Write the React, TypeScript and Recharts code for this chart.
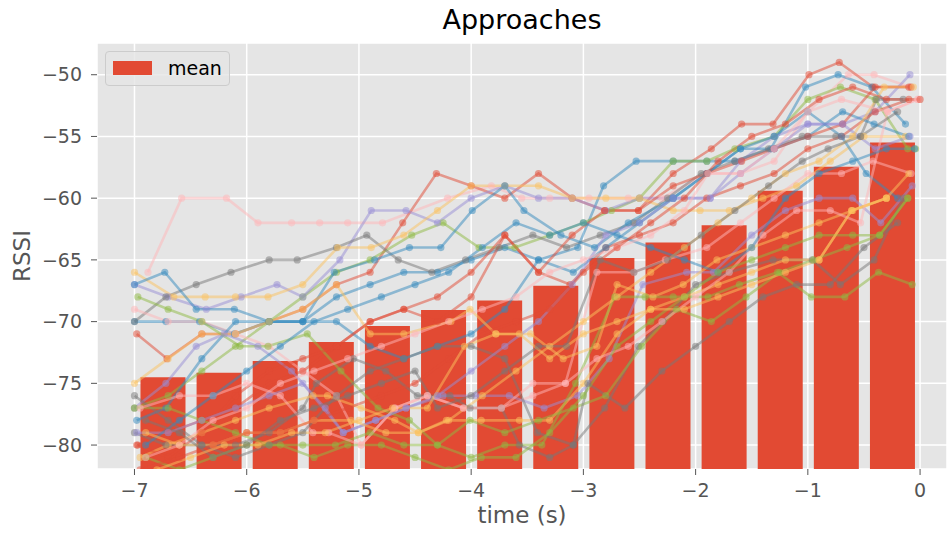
import React from 'react';
import { ComposedChart, Bar, Line, XAxis, YAxis, CartesianGrid, Legend } from 'recharts';

const FONT = '"DejaVu Sans", sans-serif';

const RED = '#E24A33';
const BLUE = '#348ABD';
const PURPLE = '#988ED5';
const GRAY = '#777777';
const YELLOW = '#FBC15E';
const GREEN = '#8EBA42';
const PINK = '#FFB5B8';

// mean per 0.5 s bin
const binTimes = [-6.75, -6.25, -5.75, -5.25, -4.75, -4.25, -3.75, -3.25, -2.75, -2.25, -1.75, -1.25, -0.75, -0.25];
const binMeans = [-74.5, -74.15, -73.2, -71.65, -70.35, -69.05, -68.3, -67.1, -64.85, -63.6, -62.2, -59.4, -57.45, -55.5];

const xTicks = [-7, -6, -5, -4, -3, -2, -1, 0];
const yTicks = [-80, -75, -70, -65, -60, -55, -50];

// individual approaches: [time (s), RSSI]
const trace01 = [[-6.88, -66], [-6.58, -60], [-6.18, -60], [-5.9, -62], [-5.6, -62], [-5.35, -62], [-5.1, -62], [-4.79, -62], [-4.21, -60], [-3.82, -59], [-3.55, -60], [-3.3, -60], [-2.95, -60], [-2.6, -60], [-2.3, -60], [-1.9, -58], [-1.6, -58], [-1.3, -57], [-1.0, -53], [-0.64, -50], [-0.41, -50], [-0.09, -51]];
const trace02 = [[-6.98, -71], [-6.71, -73], [-6.4, -71], [-6.1, -71], [-5.8, -70], [-5.5, -69], [-5.2, -67], [-4.9, -66], [-4.61, -62], [-4.31, -58], [-4.0, -59], [-3.7, -60], [-3.4, -58], [-3.1, -60], [-2.81, -61], [-2.51, -61], [-2.2, -58], [-1.86, -56], [-1.59, -54], [-1.31, -54], [-0.99, -50], [-0.72, -49], [-0.42, -51], [-0.1, -51]];
const trace03 = [[-7, -70], [-6.72, -70], [-6.42, -70], [-6.11, -71], [-5.8, -70], [-5.5, -70], [-5.2, -68], [-4.9, -67], [-4.6, -66], [-4.3, -66], [-4.0, -65], [-3.7, -64], [-3.4, -65], [-3.05, -64], [-2.82, -59], [-2.53, -57], [-2.2, -57], [-1.9, -57], [-1.65, -57], [-1.33, -56], [-1.02, -51], [-0.73, -50], [-0.43, -51], [-0.13, -54]];
const trace04 = [[-7, -77], [-6.7, -76], [-6.4, -74], [-6.1, -72], [-5.8, -70], [-5.5, -68], [-5.2, -66], [-4.9, -65], [-4.53, -63], [-4.25, -62], [-3.93, -64], [-3.61, -64], [-3.3, -63], [-3.0, -62], [-2.75, -61], [-2.5, -60], [-2.2, -57], [-1.9, -57], [-1.65, -56], [-1.3, -55], [-1.0, -52], [-0.71, -51], [-0.4, -52], [-0.11, -56], [-0.04, -56]];
const trace05 = [[-7, -67], [-6.7, -68], [-6.36, -69], [-6.05, -68], [-5.73, -67], [-5.5, -68], [-5.17, -65], [-4.89, -61], [-4.58, -61], [-4.3, -62], [-4.0, -60], [-3.7, -59], [-3.4, -60], [-3.1, -60], [-2.8, -61], [-2.5, -60], [-2.2, -60], [-1.87, -60], [-1.6, -57], [-1.3, -55], [-1.0, -54], [-0.69, -54], [-0.4, -53], [-0.09, -50]];
const trace06 = [[-7, -70], [-6.72, -68], [-6.45, -67], [-6.14, -66], [-5.8, -65], [-5.55, -65], [-5.2, -64], [-4.93, -63], [-4.65, -65], [-4.35, -66], [-4.05, -65], [-3.75, -64], [-3.45, -63], [-3.15, -64], [-2.85, -63], [-2.55, -62], [-2.25, -60], [-1.95, -58], [-1.65, -57], [-1.35, -56], [-1.05, -55], [-0.75, -55], [-0.53, -55], [-0.39, -52], [-0.15, -52]];
const trace07 = [[-7, -66], [-6.65, -68], [-6.37, -68], [-6.1, -68], [-5.81, -68], [-5.5, -67], [-5.19, -64], [-4.89, -64], [-4.6, -63], [-4.3, -61], [-4.0, -59], [-3.7, -59], [-3.4, -59], [-3.1, -60], [-2.8, -60], [-2.5, -60], [-2.2, -61], [-1.96, -61], [-1.7, -61], [-1.4, -60], [-1.1, -59], [-0.8, -57], [-0.5, -55], [-0.13, -55]];
const trace08 = [[-7, -69], [-6.7, -70], [-6.4, -70], [-6.1, -71], [-5.8, -72], [-5.5, -74], [-5.2, -76], [-4.98, -80], [-4.68, -77], [-4.39, -76], [-4.07, -77], [-3.73, -77], [-3.45, -76], [-3.16, -75], [-2.88, -66], [-2.55, -66], [-2.27, -65], [-1.9, -64], [-1.6, -62], [-1.3, -60], [-1.0, -58], [-0.7, -58], [-0.42, -57], [-0.08, -58]];
const trace09 = [[-6.97, -80], [-6.7, -79], [-6.4, -78], [-6.1, -77], [-5.8, -75], [-5.5, -74], [-5.2, -72], [-4.9, -70], [-4.6, -69], [-4.3, -68], [-4.0, -66], [-3.7, -63], [-3.4, -66], [-3.12, -67], [-2.8, -64], [-2.5, -63], [-2.2, -62], [-1.9, -60], [-1.6, -59], [-1.3, -58], [-1.0, -56], [-0.7, -55], [-0.4, -53], [-0.1, -52]];
const trace10 = [[-7, -67], [-6.73, -66], [-6.45, -69], [-6.11, -69], [-5.8, -70], [-5.5, -70], [-5.22, -66], [-4.86, -65], [-4.55, -64], [-4.27, -64], [-3.99, -61], [-3.7, -59], [-3.53, -61], [-3.2, -63], [-2.9, -64], [-2.6, -62], [-2.2, -60], [-1.9, -58], [-1.6, -56], [-1.3, -56], [-1.0, -55], [-0.69, -53], [-0.41, -54], [-0.1, -55]];
const trace11 = [[-6.98, -78], [-6.72, -77], [-6.4, -73], [-6.1, -70], [-5.8, -70], [-5.5, -70], [-5.2, -70], [-4.9, -72], [-4.6, -73], [-4.3, -72], [-4.0, -71], [-3.7, -69], [-3.4, -65], [-3.09, -66], [-2.8, -64], [-2.5, -62], [-2.2, -60], [-1.9, -58], [-1.6, -56], [-1.3, -55], [-1.0, -53], [-0.7, -55], [-0.48, -58], [-0.2, -60]];
const trace12 = [[-7, -77], [-6.72, -75], [-6.45, -72], [-6.2, -71], [-5.9, -72], [-5.6, -74], [-5.3, -77], [-5.14, -79], [-4.85, -78], [-4.58, -77], [-4.25, -76], [-3.96, -76], [-3.66, -76], [-3.35, -77], [-3.05, -76], [-2.77, -73], [-2.47, -67], [-2.08, -66], [-1.84, -66], [-1.5, -63], [-1.2, -61], [-0.9, -60], [-0.6, -60], [-0.35, -62], [-0.07, -59]];
const trace13 = [[-7, -76], [-6.7, -78], [-6.4, -80], [-6.1, -80], [-5.8, -79], [-5.5, -77], [-5.38, -75], [-5.05, -73], [-4.76, -74], [-4.48, -76], [-4.19, -76], [-4.01, -77], [-3.73, -77], [-3.57, -80], [-3.3, -81], [-3.09, -80], [-2.81, -77], [-2.51, -72], [-2.29, -70], [-2.0, -67], [-1.7, -66], [-1.31, -65], [-0.96, -65], [-0.71, -67], [-0.41, -65], [-0.15, -60]];
const trace14 = [[-7, -75], [-6.7, -73], [-6.4, -71], [-6.1, -71], [-5.8, -70], [-5.5, -69], [-5.2, -67], [-4.9, -71], [-4.6, -71], [-4.18, -70], [-4.01, -69], [-3.78, -71], [-3.47, -71], [-3.18, -73], [-2.88, -72], [-2.7, -67], [-2.38, -68], [-2.11, -67], [-1.81, -65], [-1.5, -64], [-1.2, -63], [-0.9, -62], [-0.6, -61], [-0.3, -60]];
const trace15 = [[-6.95, -81], [-6.7, -80], [-6.4, -79], [-6.1, -78], [-5.8, -77], [-5.41, -76], [-5.28, -76], [-4.98, -77], [-4.68, -78], [-4.47, -79], [-4.22, -78], [-3.91, -78], [-3.57, -78], [-3.3, -78], [-3.0, -75], [-2.7, -71], [-2.4, -69], [-2.1, -68], [-1.8, -67], [-1.5, -66], [-1.2, -65], [-0.9, -65], [-0.61, -61], [-0.3, -60], [-0.1, -58]];
const trace16 = [[-7, -77], [-6.7, -77], [-6.4, -78], [-6.1, -79], [-5.8, -80], [-5.5, -80], [-5.21, -80], [-4.9, -79], [-4.6, -80], [-4.3, -80], [-4.0, -81], [-3.7, -80], [-3.37, -80], [-3.07, -75], [-2.72, -68], [-2.45, -68], [-2.2, -68], [-1.89, -68], [-1.61, -67], [-1.27, -66], [-0.97, -68], [-0.67, -68], [-0.37, -66], [-0.07, -67]];
const trace17 = [[-6.97, -68], [-6.7, -69], [-6.4, -70], [-6.06, -72], [-5.81, -72], [-5.46, -71], [-5.16, -74], [-4.83, -77], [-4.55, -78], [-4.3, -80], [-4.01, -78], [-3.7, -79], [-3.4, -78], [-3.09, -77], [-2.8, -76], [-2.48, -72], [-2.17, -69], [-1.86, -70], [-1.55, -68], [-1.25, -66], [-0.95, -65], [-0.65, -64], [-0.36, -63], [-0.11, -60]];
const trace18 = [[-6.98, -80], [-6.7, -81], [-6.4, -79], [-6.1, -76], [-5.8, -74], [-5.5, -73], [-5.2, -72], [-4.9, -70], [-4.6, -69], [-4.3, -70], [-4.0, -68], [-3.7, -63], [-3.4, -66], [-3.1, -63], [-2.81, -61], [-2.51, -61], [-2.2, -59], [-1.9, -58], [-1.59, -57], [-1.3, -56], [-1.0, -55], [-0.69, -54], [-0.4, -51], [-0.08, -51]];
const trace19 = [[-6.95, -77], [-6.6, -76], [-6.3, -76], [-6.0, -75], [-5.7, -76], [-5.41, -79], [-5.27, -79], [-4.98, -80], [-4.68, -77], [-4.39, -76], [-4.07, -77], [-3.73, -77], [-3.45, -75], [-3.16, -75], [-2.88, -73], [-2.6, -72], [-2.3, -70], [-2.0, -68], [-1.7, -66], [-1.4, -63], [-1.1, -61], [-0.8, -61], [-0.53, -62], [-0.29, -53], [-0.02, -52]];
const trace20 = [[-7, -79], [-6.72, -80], [-6.4, -80], [-6.1, -81], [-5.8, -80], [-5.5, -79], [-5.2, -76], [-4.9, -74], [-4.6, -73], [-4.3, -72], [-4.0, -72], [-3.7, -73], [-3.41, -79], [-3.09, -80], [-2.96, -75], [-2.63, -77], [-2.3, -74], [-2.0, -72], [-1.7, -70], [-1.4, -68], [-1.1, -67], [-0.8, -67], [-0.5, -64], [-0.2, -62]];
const trace21 = [[-6.98, -79], [-6.7, -79], [-6.4, -78], [-6.1, -77], [-5.8, -76], [-5.5, -75], [-5.14, -79], [-4.85, -78], [-4.58, -77], [-4.3, -76], [-4.0, -74], [-3.7, -72], [-3.4, -70], [-3.1, -67], [-2.8, -63], [-2.5, -62], [-2.2, -60], [-1.87, -60], [-1.6, -58], [-1.3, -56], [-1.0, -54], [-0.69, -54], [-0.4, -56], [-0.09, -55]];
const trace22 = [[-6.9, -80], [-6.6, -78], [-6.3, -76], [-6.0, -74], [-5.7, -72], [-5.4, -70], [-5.1, -69], [-4.8, -68], [-4.5, -67], [-4.2, -66], [-3.9, -64], [-3.6, -62], [-3.3, -63], [-3.0, -62], [-2.7, -63], [-2.4, -64], [-2.1, -65], [-1.8, -66], [-1.5, -64], [-1.2, -60], [-0.9, -58], [-0.6, -57], [-0.3, -56], [-0.05, -56]];
const trace23 = [[-6.9, -79], [-6.6, -80], [-6.3, -80], [-6.0, -79], [-5.7, -79], [-5.4, -78], [-5.07, -78], [-4.76, -79], [-4.47, -79], [-4.2, -78], [-3.9, -76], [-3.6, -74], [-3.3, -72], [-3.0, -70], [-2.7, -68], [-2.4, -66], [-2.1, -64], [-1.8, -62], [-1.5, -60], [-1.2, -58], [-0.9, -57], [-0.6, -55], [-0.32, -51], [-0.06, -51]];
const trace24 = [[-6.9, -81], [-6.6, -82], [-6.3, -81], [-6.0, -80], [-5.7, -80], [-5.4, -81], [-5.1, -80], [-4.8, -80], [-4.5, -81], [-4.2, -82], [-3.91, -81], [-3.6, -81], [-3.3, -79], [-3.0, -76], [-2.7, -72], [-2.4, -70], [-2.1, -68], [-1.8, -66], [-1.5, -65], [-1.2, -64], [-0.9, -63], [-0.6, -63], [-0.36, -63], [-0.11, -60]];
const trace25 = [[-6.9, -81], [-6.6, -80], [-6.3, -78], [-6.0, -77], [-5.7, -75], [-5.4, -74], [-5.1, -73], [-4.8, -72], [-4.5, -71], [-4.2, -70], [-3.9, -69], [-3.6, -68], [-3.3, -66], [-3.0, -65], [-2.7, -64], [-2.4, -63], [-2.1, -61], [-1.89, -58], [-1.6, -58], [-1.3, -56], [-1.0, -53], [-0.7, -52], [-0.29, -53], [-0.02, -52]];
const trace26 = [[-6.95, -82], [-6.6, -81], [-6.3, -80], [-6.0, -79], [-5.7, -79], [-5.4, -78], [-5.1, -77], [-4.8, -76], [-4.5, -75], [-4.2, -73], [-3.9, -71], [-3.6, -70], [-3.3, -69], [-3.0, -66], [-2.7, -64], [-2.4, -62], [-2.1, -60], [-1.8, -57], [-1.5, -55], [-1.2, -54], [-0.9, -52], [-0.6, -51], [-0.3, -52], [0.0, -52]];
const trace27 = [[-6.9, -78], [-6.6, -79], [-6.3, -81], [-6.0, -80], [-5.7, -78], [-5.4, -77], [-5.1, -76], [-4.8, -75], [-4.5, -74], [-4.3, -77], [-4.0, -76], [-3.7, -74], [-3.4, -72], [-3.15, -72], [-2.85, -65], [-2.55, -66], [-2.25, -65], [-1.95, -63], [-1.65, -61], [-1.35, -59], [-1.05, -57], [-0.82, -56], [-0.53, -55], [-0.2, -53]];
const trace28 = [[-6.8, -82], [-6.5, -81], [-6.2, -80], [-5.9, -80], [-5.6, -79], [-5.3, -79], [-5.0, -78], [-4.7, -77], [-4.39, -77], [-4.06, -72], [-3.78, -71], [-3.57, -71], [-3.3, -73], [-3.0, -71], [-2.7, -70], [-2.4, -69], [-2.1, -69], [-1.8, -68], [-1.5, -67], [-1.2, -66], [-0.9, -65], [-0.61, -61], [-0.3, -60]];

const traceList = [trace01, trace02, trace03, trace04, trace05, trace06, trace07, trace08, trace09, trace10, trace11, trace12, trace13, trace14, trace15, trace16, trace17, trace18, trace19, trace20, trace21, trace22, trace23, trace24, trace25, trace26, trace27, trace28];
const traceColors = [PINK, RED, BLUE, GREEN, PURPLE, GRAY, YELLOW, PINK, RED, BLUE, BLUE, PURPLE, GRAY, YELLOW, YELLOW, GREEN, GREEN, RED, PINK, GRAY, PURPLE, BLUE, YELLOW, GREEN, PINK, RED, GRAY, YELLOW];

const BAR_FLOOR = -100;
const barData = binTimes.map((t, i) => ({ t, mean: [BAR_FLOOR, binMeans[i]] }));

const X_DOMAIN: [number, number] = [-7.334, 0.24];
const Y_DOMAIN: [number, number] = [-81.94, -47.43];

const fmt = (v: number) => (v < 0 ? '\u2212' + Math.abs(v) : String(v));

const tickStyle = { fill: '#555555', fontSize: 19, fontFamily: FONT };

const LegendBox = () => (
  <div
    style={{
      width: 123,
      height: 33,
      background: 'rgba(229,229,229,0.8)',
      border: '1px solid #CCCCCC',
      borderRadius: 4,
      position: 'relative',
      fontFamily: FONT,
    }}
  >
    <div style={{ position: 'absolute', left: 7, top: 9, width: 39, height: 14, background: RED }} />
    <div style={{ position: 'absolute', left: 62, top: 4, fontSize: 19, lineHeight: '24px', color: '#000' }}>mean</div>
  </div>
);

export default function App() {
  return (
    <div style={{ position: 'absolute', left: 0, top: 0, width: 948, height: 533, background: '#fff', fontFamily: FONT }}>
      <div style={{ position: 'absolute', left: 97, width: 850, top: 6, textAlign: 'center', fontSize: 27, lineHeight: '27px', color: '#000' }}>
        Approaches
      </div>
      <div style={{ position: 'absolute', left: 97, width: 850, top: 504, textAlign: 'center', fontSize: 23, lineHeight: '23px', color: '#555555' }}>
        time (s)
      </div>
      <div
        style={{
          position: 'absolute',
          left: 22,
          top: 256,
          fontSize: 23,
          lineHeight: '23px',
          color: '#555555',
          transform: 'translate(-50%, -50%) rotate(-90deg)',
          whiteSpace: 'nowrap',
        }}
      >
        RSSI
      </div>
      <ComposedChart
        width={948}
        height={533}
        data={barData}
        margin={{ top: 43, right: 1, bottom: 0, left: 0 }}
        style={{ position: 'absolute', left: 0, top: 0 }}
      >
        <CartesianGrid xAxisId="main" fill="#E5E5E5" stroke="#FFFFFF" strokeWidth={1.5} />
        <XAxis
          xAxisId="main"
          type="number"
          dataKey="t"
          domain={X_DOMAIN}
          allowDataOverflow
          ticks={xTicks}
          tickFormatter={fmt}
          axisLine={false}
          tickLine={{ stroke: '#555555', strokeWidth: 1 }}
          tickSize={6}
          tickMargin={9}
          tick={tickStyle}
          height={64}
          interval={0}
        />
        <XAxis xAxisId="bars" type="number" dataKey="t" domain={X_DOMAIN} allowDataOverflow hide height={0} />
        <YAxis
          type="number"
          domain={Y_DOMAIN}
          allowDataOverflow
          ticks={yTicks}
          tickFormatter={fmt}
          axisLine={false}
          tickLine={{ stroke: '#555555', strokeWidth: 1 }}
          tickSize={6}
          tickMargin={9}
          tick={tickStyle}
          width={97}
          interval={0}
        />
        <Bar xAxisId="bars" dataKey="mean" name="mean" fill={RED} barSize={45} isAnimationActive={false} />
        {traceList.map((tr, i) => (
          <Line
            key={'trace' + i}
            xAxisId="main"
            data={tr.map(([t, v]) => ({ t, v }))}
            dataKey="v"
            type="linear"
            stroke={traceColors[i]}
            strokeOpacity={0.5}
            strokeWidth={2.6}
            dot={{ r: 3.6, fill: traceColors[i], fillOpacity: 0.5, stroke: 'none' }}
            activeDot={false}
            legendType="none"
            isAnimationActive={false}
          />
        ))}
        <Legend
          layout="vertical"
          align="center"
          verticalAlign="middle"
          content={() => <LegendBox />}
          wrapperStyle={{ left: 105, top: 51, width: 'auto', height: 'auto' }}
        />
      </ComposedChart>
    </div>
  );
}
